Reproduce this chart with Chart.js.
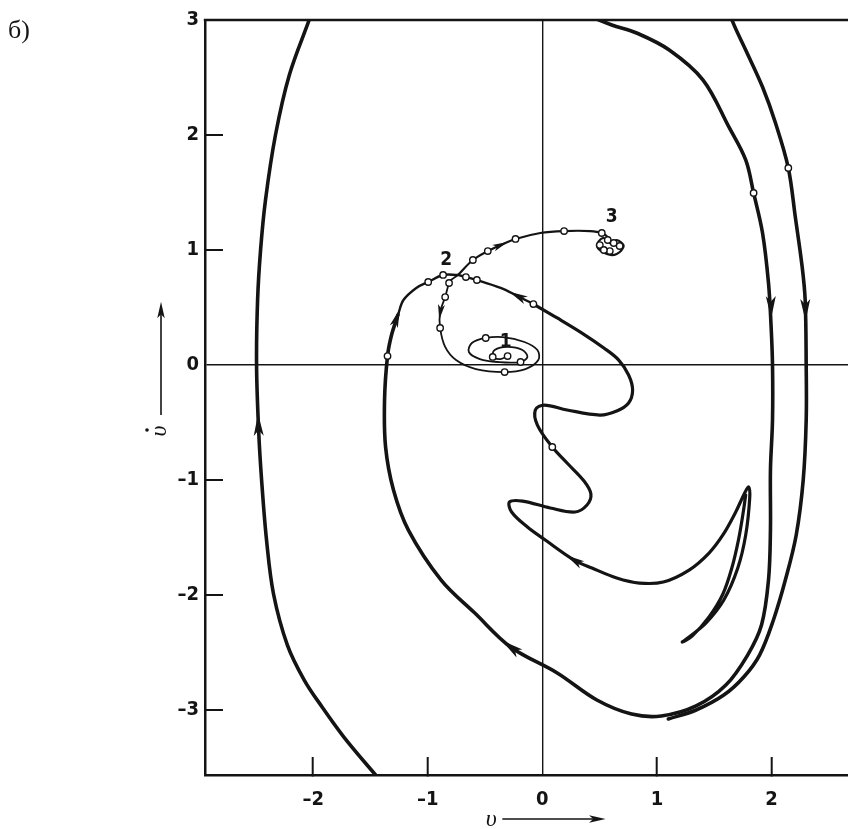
<!DOCTYPE html>
<html>
<head>
<meta charset="utf-8">
<script src="https://cdn.jsdelivr.net/npm/chart.js@4.4.1/dist/chart.umd.min.js"></script>
<style>
html, body { margin: 0; padding: 0; background: #fff; overflow: hidden; }
#wrap { position: relative; width: 848px; height: 829px; overflow: hidden; }
canvas { display: block; }
</style>
</head>
<body>
<div id="wrap"><canvas id="phase" width="880" height="829" style="width:880px;height:829px"></canvas></div>
<script>
// axis ticks
const xTickValues = [-2, -1, 0, 1, 2];
const yTickValues = [-3, -2, -1, 0, 1, 2, 3];

// trajectories, [v, dv/dt]
const curveA = [[-1.99,3.13],[-2.035,3.0],[-2.208,2.522],[-2.329,2.0],[-2.416,1.435],[-2.459,1.0],[-2.485,0.565],[-2.494,0],[-2.476,-0.565],[-2.45,-1.0],[-2.407,-1.522],[-2.346,-1.991],[-2.225,-2.435],[-2.078,-2.739],[-1.922,-2.974],[-1.732,-3.235],[-1.455,-3.565],[-1.325,-3.713]];
const curveB = [[1.619,3.13],[1.662,2.983],[1.775,2.739],[1.922,2.417],[2.035,2.104],[2.147,1.713],[2.208,1.287],[2.268,0.852],[2.294,0.565],[2.303,0],[2.303,-0.478],[2.277,-1.0],[2.216,-1.478],[2.121,-1.87],[2.017,-2.217],[1.896,-2.522],[1.758,-2.713],[1.584,-2.87],[1.342,-3.0],[1.1,-3.078]];
const curveD = [[0.39,3.043],[0.606,2.957],[0.823,2.887],[1.108,2.739],[1.403,2.478],[1.628,2.07],[1.775,1.783],[1.844,1.496],[1.922,1.148],[1.974,0.713],[1.996,0.35],[2.009,0],[2.009,-0.478],[1.991,-0.913],[1.991,-1.435],[1.974,-1.87],[1.913,-2.261],[1.792,-2.522],[1.602,-2.783],[1.342,-2.965],[1.039,-3.052],[0.779,-3.035],[0.476,-2.913],[0.13,-2.678],[-0.277,-2.452],[-0.589,-2.157],[-0.883,-1.87],[-1.169,-1.435],[-1.299,-1.087],[-1.368,-0.713],[-1.377,-0.304],[-1.351,0.078],[-1.316,0.261],[-1.26,0.435]];
const curveDnear = [[-1.26,0.435],[-1.212,0.565],[-1.1,0.67],[-0.996,0.722],[-0.866,0.783],[-0.736,0.783]];
const branchEnear = [[-0.736,0.783],[-0.667,0.765],[-0.571,0.739],[-0.364,0.67],[-0.216,0.6],[-0.078,0.53]];
const branchE = [[-0.078,0.53],[0.13,0.409],[0.346,0.278],[0.537,0.148],[0.667,0.043],[0.753,-0.087],[0.788,-0.217],[0.753,-0.33],[0.649,-0.4],[0.502,-0.435],[0.216,-0.391],[0.017,-0.348],[-0.061,-0.391],[-0.043,-0.522],[0.087,-0.713],[0.216,-0.852],[0.364,-1.009],[0.424,-1.122],[0.39,-1.217],[0.286,-1.278],[0.069,-1.243],[-0.173,-1.183],[-0.286,-1.191],[-0.268,-1.278],[-0.13,-1.409],[0.026,-1.522],[0.277,-1.696],[0.433,-1.765],[0.649,-1.852],[0.848,-1.896],[1.056,-1.887],[1.281,-1.783],[1.455,-1.635],[1.576,-1.478],[1.688,-1.278],[1.766,-1.113],[1.801,-1.061],[1.81,-1.157],[1.775,-1.478],[1.706,-1.765],[1.584,-2.043],[1.429,-2.243],[1.281,-2.365],[1.221,-2.409],[1.307,-2.357],[1.455,-2.191],[1.576,-1.991],[1.654,-1.765],[1.712,-1.52],[1.752,-1.29],[1.775,-1.13]];
const branchF = [[-0.736,0.783],[-0.606,0.913],[-0.476,0.991],[-0.364,1.043],[-0.234,1.096],[-0.017,1.148],[0.19,1.165],[0.416,1.165],[0.519,1.148],[0.58,1.104],[0.597,1.052],[0.649,1.087],[0.71,1.035],[0.649,0.965],[0.563,0.965],[0.476,1.035],[0.528,1.104],[0.589,1.07]];
const branchG = [[-0.736,0.783],[-0.797,0.739],[-0.814,0.713],[-0.848,0.591],[-0.892,0.461],[-0.892,0.322],[-0.848,0.157],[-0.753,0.043],[-0.58,-0.035],[-0.329,-0.061],[-0.147,-0.035],[-0.035,0.043],[-0.043,0.13],[-0.156,0.2],[-0.346,0.243],[-0.494,0.235],[-0.615,0.191],[-0.641,0.113],[-0.545,0.052],[-0.39,0.026],[-0.19,0.026],[-0.13,0.07],[-0.173,0.13],[-0.303,0.157],[-0.416,0.13],[-0.433,0.07],[-0.364,0.052],[-0.303,0.078]];

// stroboscopic points (small open circles)
const markerPts = [[2.147,1.713],[1.844,1.496],[-1.351,0.078],[-0.996,0.722],[-0.866,0.783],
  [-0.667,0.765],[-0.571,0.739],[-0.078,0.53],[0.087,-0.713],
  [-0.606,0.913],[-0.476,0.991],[-0.234,1.096],[0.19,1.165],[0.519,1.148],
  [0.571,1.087],[0.502,1.043],[0.623,1.061],[0.675,1.035],[0.589,0.991],[0.537,1.0],
  [-0.814,0.713],[-0.848,0.591],[-0.892,0.322],[-0.329,-0.061],[-0.494,0.235],[-0.19,0.026],[-0.433,0.07],[-0.303,0.078]];

// arrow heads: v, dv, direction (dv, ddv), size
const arrowMarks = [[-2.478,-0.52,-0.03,1,1],[2.296,0.478,0.015,-1,1],[1.996,0.504,0.02,-1,1],
  [-0.277,-2.452,-0.72,0.52,1],[-1.27,0.41,0.104,0.304,0.85],[-0.216,0.6,-0.277,0.139,0.85],
  [0.277,-1.696,-0.39,0.235,0.85],[-0.364,1.043,0.242,0.104,0.7],[-0.89,0.46,-0.15,-1,0.7]];

const pointLabels = [['1',-0.32,0.2],['2',-0.84,0.913],['3',0.606,1.287]];

const ink = '#141414';
const tickFont = { family: "'Liberation Sans Narrow', 'DejaVu Sans Condensed', sans-serif", size: 20, weight: 'bold' };

function toXY(arr) { return arr.map(p => ({ x: p[0], y: p[1] })); }

function curveSet(pts, w) {
    return {
        data: toXY(pts), showLine: true, borderColor: ink, borderWidth: w,
        pointRadius: 0, tension: 0.35, borderCapStyle: 'round', borderJoinStyle: 'round', order: 1
    };
}

function fmt(v) { return v < 0 ? '\u2013' + Math.abs(v) : String(v); }

function drawHead(ctx, x, y, ux, uy, s) {
    const len = 22 * s, half = 5 * s;
    const nx = -uy, ny = ux;
    ctx.beginPath();
    ctx.moveTo(x + ux * len * 0.5, y + uy * len * 0.5);
    ctx.lineTo(x - ux * len * 0.5 + nx * half, y - uy * len * 0.5 + ny * half);
    ctx.lineTo(x - ux * len * 0.25, y - uy * len * 0.25);
    ctx.lineTo(x - ux * len * 0.5 - nx * half, y - uy * len * 0.5 - ny * half);
    ctx.closePath();
    ctx.fill();
}

const decor = {
    id: 'decor',
    afterDatasetsDraw(chart) {
        const { ctx, chartArea } = chart;
        const xs = chart.scales.x, ys = chart.scales.y;
        ctx.save();
        ctx.strokeStyle = ink;
        ctx.fillStyle = ink;

        // top frame line
        ctx.lineWidth = 2.5;
        ctx.beginPath();
        ctx.moveTo(chartArea.left - 1.2, chartArea.top);
        ctx.lineTo(chart.width, chartArea.top);
        ctx.stroke();

        // inward tick marks on the left frame
        ctx.lineWidth = 2;
        yTickValues.forEach(v => {
            if (v === 0 || v === 3) return;
            const py = ys.getPixelForValue(v);
            ctx.beginPath();
            ctx.moveTo(chartArea.left, py);
            ctx.lineTo(chartArea.left + 18, py);
            ctx.stroke();
        });

        // arrow heads on the curves
        arrowMarks.forEach(a => {
            const px = xs.getPixelForValue(a[0]), py = ys.getPixelForValue(a[1]);
            const qx = xs.getPixelForValue(a[0] + a[2] * 0.01), qy = ys.getPixelForValue(a[1] + a[3] * 0.01);
            let ux = qx - px, uy = qy - py;
            const L = Math.hypot(ux, uy);
            drawHead(ctx, px, py, ux / L, uy / L, a[4]);
        });

        // labels 1, 2, 3
        ctx.font = "bold 19px 'Liberation Sans Narrow', 'DejaVu Sans Condensed', sans-serif";
        ctx.textAlign = 'center';
        ctx.textBaseline = 'middle';
        pointLabels.forEach(l => {
            ctx.fillText(l[0], xs.getPixelForValue(l[1]), ys.getPixelForValue(l[2]));
        });

        // axis titles with arrows
        const x0 = xs.getPixelForValue(0), y0 = ys.getPixelForValue(0);
        ctx.font = "italic 24px 'Liberation Serif', serif";
        ctx.textBaseline = 'alphabetic';
        ctx.fillText('\u03c5', x0 - 51, 826);
        ctx.lineWidth = 1.6;
        ctx.beginPath();
        ctx.moveTo(x0 - 40, 819);
        ctx.lineTo(x0 + 52, 819);
        ctx.stroke();
        drawHead(ctx, x0 + 55, 819, 1, 0, 0.75);

        ctx.beginPath();
        ctx.moveTo(161, y0 + 50);
        ctx.lineTo(161, y0 - 52);
        ctx.stroke();
        drawHead(ctx, 161, y0 - 55, 0, -1, 0.75);

        ctx.save();
        ctx.translate(166, y0 + 66);
        ctx.rotate(-Math.PI / 2);
        ctx.textBaseline = 'alphabetic';
        ctx.fillText('\u03c5', 0, 0);
        ctx.beginPath();
        ctx.arc(1, -19, 1.8, 0, Math.PI * 2);
        ctx.fill();
        ctx.restore();

        // panel letter
        ctx.font = "26px 'Liberation Serif', 'DejaVu Serif', serif";
        ctx.textAlign = 'left';
        ctx.fillText('\u0431)', 8, 38);
        ctx.restore();
    }
};

const ctx = document.getElementById('phase').getContext('2d');
new Chart(ctx, {
    type: 'scatter',
    data: {
        datasets: [
            curveSet(curveA, 3.6),
            curveSet(curveB, 3.6),
            curveSet(curveD, 3.6),
            curveSet(curveDnear, 2.4),
            curveSet(branchEnear, 2.4),
            curveSet(branchE, 3.2),
            curveSet(branchF, 2.2),
            curveSet(branchG, 1.8),
            {
                data: toXY(markerPts), pointRadius: 3.2, pointBackgroundColor: '#fff',
                pointBorderColor: ink, pointBorderWidth: 1.4, showLine: false, order: 0
            }
        ]
    },
    options: {
        responsive: false,
        animation: false,
        events: [],
        layout: { padding: { top: 20, left: 0, right: 0, bottom: 0 } },
        plugins: { legend: { display: false }, tooltip: { enabled: false } },
        scales: {
            x: {
                type: 'linear', min: -2.944, max: 2.9,
                afterBuildTicks: s => { s.ticks = xTickValues.map(v => ({ value: v })); },
                afterFit: s => { s.height = 54; },
                grid: {
                    color: c => (c.tick && c.tick.value === 0 ? ink : 'rgba(0,0,0,0)'),
                    lineWidth: 1.4, drawTicks: true, tickLength: -18,
                    tickColor: c => (c.tick && c.tick.value === 0 ? 'rgba(0,0,0,0)' : ink), tickWidth: 2
                },
                border: { color: ink, width: 2.5 },
                ticks: { padding: 31, color: ink, font: tickFont, callback: fmt, maxRotation: 0 }
            },
            y: {
                type: 'linear', min: -3.565, max: 3.0,
                afterBuildTicks: s => { s.ticks = yTickValues.map(v => ({ value: v })); },
                afterFit: s => { s.width = 205; },
                grid: {
                    color: c => (c.tick && c.tick.value === 0 ? ink : 'rgba(0,0,0,0)'),
                    lineWidth: 1.4, drawTicks: false
                },
                border: { color: ink, width: 2.5 },
                ticks: { padding: 6, color: ink, font: tickFont, callback: fmt }
            }
        }
    },
    plugins: [decor]
});
</script>
</body>
</html>
